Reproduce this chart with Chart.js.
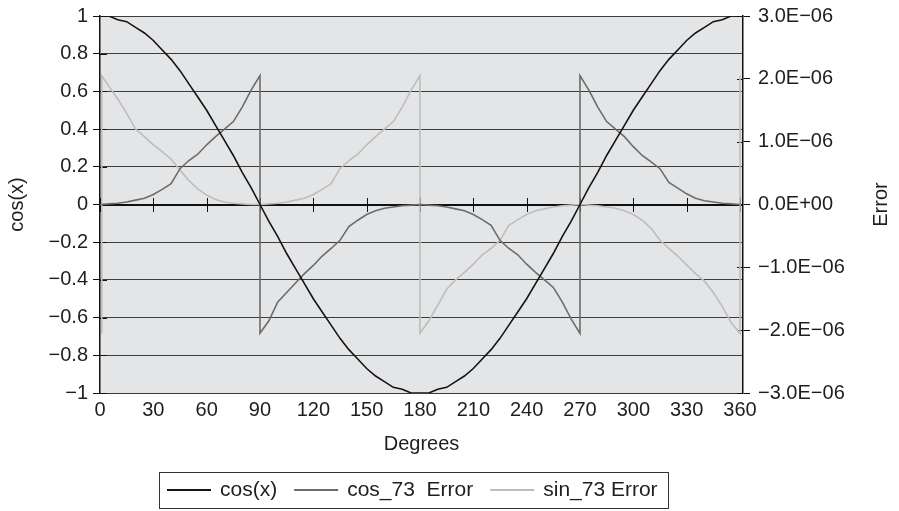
<!DOCTYPE html>
<html>
<head>
<meta charset="utf-8">
<script src="https://cdn.jsdelivr.net/npm/chart.js@4/dist/chart.umd.min.js"></script>
<style>
  html, body { margin: 0; padding: 0; background: #ffffff; }
  #wrap { width: 899px; height: 511px; position: relative; }
</style>
</head>
<body>
<div id="wrap"><canvas id="chart" width="899" height="511"></canvas></div>
<script>
// ---- data -------------------------------------------------------------
// cos(x) sampled every 5 degrees
const cosDeg = [0,5,10,15,20,25,30,35,40,45,50,55,60,65,70,75,80,85,90,
  95,100,105,110,115,120,125,130,135,140,145,150,155,160,165,170,175,180,
  185,190,195,200,205,210,215,220,225,230,235,240,245,250,255,260,265,270,
  275,280,285,290,295,300,305,310,315,320,325,330,335,340,345,350,355,360];
const cosValues = [1.00,1.00,0.98,0.97,0.94,0.91,0.87,0.82,0.77,0.71,0.64,0.57,0.50,0.42,0.34,0.26,0.17,0.09,0.00,
  -0.09,-0.17,-0.26,-0.34,-0.42,-0.50,-0.57,-0.64,-0.71,-0.77,-0.82,-0.87,-0.91,-0.94,-0.97,-0.98,-1.00,-1.00,
  -1.00,-0.98,-0.97,-0.94,-0.91,-0.87,-0.82,-0.77,-0.71,-0.64,-0.57,-0.50,-0.42,-0.34,-0.26,-0.17,-0.09,0.00,
  0.09,0.17,0.26,0.34,0.42,0.50,0.57,0.64,0.71,0.77,0.82,0.87,0.91,0.94,0.97,0.98,1.00,1.00];

// approximation errors, in units of 1E-06 (repeated degree = jump)
const ERR_UNIT = 1e-6;
const cosErrDeg = [0,5,10,15,20,25,30,35,40,45,50,55,60,65,70,75,80,85,90,
  90,95,100,105,110,115,120,125,130,135,140,145,150,155,160,165,170,175,180,
  185,190,195,200,205,210,215,220,225,230,235,240,245,250,255,260,265,270,
  270,275,280,285,290,295,300,305,310,315,320,325,330,335,340,345,350,355,360];
const cosErrMicro = [0,0.01,0.02,0.04,0.07,0.10,0.16,0.24,0.33,0.57,0.70,0.80,0.95,1.08,1.20,1.32,1.55,1.82,2.05,
  -2.05,-1.85,-1.55,-1.40,-1.25,-1.10,-0.97,-0.82,-0.70,-0.57,-0.35,-0.25,-0.16,-0.10,-0.06,-0.04,-0.02,-0.01,0,
  -0.01,-0.02,-0.04,-0.07,-0.10,-0.16,-0.24,-0.33,-0.57,-0.70,-0.80,-0.95,-1.08,-1.20,-1.32,-1.55,-1.82,-2.05,
  2.05,1.82,1.55,1.32,1.20,1.08,0.92,0.78,0.68,0.57,0.35,0.26,0.17,0.10,0.06,0.04,0.02,0.01,0];

const sinErrDeg = [1,1,5,10,15,20,25,30,35,40,45,50,55,60,65,70,75,80,85,90,
  95,100,105,110,115,120,125,130,135,140,145,150,155,160,165,170,175,180,
  180,185,190,195,200,205,210,215,220,225,230,235,240,245,250,255,260,265,270,
  275,280,285,290,295,300,305,310,315,320,325,330,335,340,345,350,355,360,360];
const sinErrMicro = [-2.05,2.05,1.88,1.68,1.45,1.20,1.08,0.95,0.84,0.72,0.55,0.38,0.25,0.15,0.08,0.04,0.02,0.01,0,0,
  0.01,0.02,0.04,0.07,0.10,0.16,0.24,0.33,0.57,0.70,0.80,0.95,1.08,1.20,1.32,1.55,1.82,2.05,
  -2.05,-1.85,-1.60,-1.35,-1.20,-1.08,-0.95,-0.80,-0.70,-0.57,-0.33,-0.24,-0.16,-0.10,-0.07,-0.04,-0.02,-0.01,0,
  -0.01,-0.02,-0.04,-0.06,-0.10,-0.16,-0.25,-0.38,-0.57,-0.70,-0.82,-0.96,-1.10,-1.22,-1.40,-1.62,-1.88,-2.05,2.05];

// tick positions
const degreeTicks = [0,30,60,90,120,150,180,210,240,270,300,330,360];
const cosTicks = [-1,-0.8,-0.6,-0.4,-0.2,0,0.2,0.4,0.6,0.8,1];
const errTicks = [-3e-6,-2e-6,-1e-6,0,1e-6,2e-6,3e-6];

const seriesNames = ['cos(x)', 'cos_73  Error', 'sin_73 Error'];
const seriesColors = ['#141414', '#6c6c6c', '#bdbdbd'];

// ---- helpers ----------------------------------------------------------
const FONT = "'Liberation Sans', Arial, Helvetica, sans-serif";
const MINUS = '\u2212';

function pairs(xs, ys, k) {
  return xs.map((x, i) => ({ x: x, y: ys[i] * (k || 1) }));
}
function fmtCos(v) {
  const r = Math.round(v * 10) / 10;
  if (r === 0) return '0';
  return (r < 0 ? MINUS : '') + String(Math.abs(r));
}
function fmtErr(v) {
  if (Math.abs(v) < 1e-12) return '0.0E+00';
  const a = Math.abs(v);
  const e = Math.floor(Math.log10(a) + 1e-9);
  const m = a / Math.pow(10, e);
  return (v < 0 ? MINUS : '') + m.toFixed(1) + 'E' + (e < 0 ? MINUS : '+') + String(Math.abs(e)).padStart(2, '0');
}
function setTicks(list) {
  return function (scale) { scale.ticks = list.map(v => ({ value: v })); };
}
// fixed axis band size, no extra label overflow padding
function fixWidth(w) {
  return function (s) { s.width = w; s.paddingTop = 0; s.paddingBottom = 0; };
}

// ---- decorations: panel fill, zero axis, inner ticks, titles, legend ---
const decor = {
  id: 'decor',
  beforeDraw(chart) {
    const { ctx, chartArea: a } = chart;
    ctx.save();
    ctx.fillStyle = '#e4e5e7';
    ctx.fillRect(a.left, a.top, a.right - a.left, a.bottom - a.top);
    ctx.restore();
  },
  beforeDatasetsDraw(chart) {
    const { ctx, chartArea: a, scales } = chart;
    const y0 = Math.round(scales.y.getPixelForValue(0));
    ctx.save();
    ctx.strokeStyle = '#111';
    // horizontal axis through zero
    ctx.lineWidth = 2;
    ctx.beginPath();
    ctx.moveTo(a.left, y0);
    ctx.lineTo(a.right, y0);
    ctx.stroke();
    ctx.lineWidth = 1;
    ctx.beginPath();
    degreeTicks.forEach(d => {
      const x = Math.round(scales.x.getPixelForValue(d)) + 0.5;
      ctx.moveTo(x, y0 - 7);
      ctx.lineTo(x, y0 + 7);
    });
    // inner halves of the value-axis tick marks
    cosTicks.forEach(v => {
      const y = Math.round(scales.y.getPixelForValue(v)) + 0.5;
      ctx.moveTo(a.left, y);
      ctx.lineTo(a.left + 7, y);
    });
    errTicks.forEach(v => {
      const y = Math.round(scales.y2.getPixelForValue(v)) + 0.5;
      ctx.moveTo(a.right - 6, y);
      ctx.lineTo(a.right, y);
    });
    ctx.stroke();
    ctx.restore();
  },
  afterDraw(chart) {
    const { ctx, chartArea: a } = chart;
    const midY = (a.top + a.bottom) / 2;
    ctx.save();
    ctx.fillStyle = '#1e1e1e';
    ctx.font = '20px ' + FONT;
    ctx.textAlign = 'center';
    ctx.textBaseline = 'middle';
    // axis titles
    ctx.fillText('Degrees', (a.left + a.right) / 2, 444);
    ctx.save();
    ctx.translate(17, midY);
    ctx.rotate(-Math.PI / 2);
    ctx.fillText('cos(x)', 0, 0);
    ctx.restore();
    ctx.save();
    ctx.translate(881, midY);
    ctx.rotate(-Math.PI / 2);
    ctx.fillText('Error', 0, 0);
    ctx.restore();

    // legend
    ctx.font = '21px ' + FONT;
    const lineLen = 44, gapText = 9, gapItem = 17, padL = 8, padR = 10;
    const widths = seriesNames.map(n => ctx.measureText(n).width);
    let total = padL + padR;
    widths.forEach((w, i) => { total += lineLen + gapText + w + (i < widths.length - 1 ? gapItem : 0); });
    const boxL = 159;
    const boxT = 472, boxB = 508, cy = 490;
    ctx.strokeStyle = '#333';
    ctx.lineWidth = 1;
    ctx.strokeRect(boxL + 0.5, boxT + 0.5, Math.round(total), boxB - boxT);
    let x = boxL + padL;
    ctx.textAlign = 'left';
    seriesNames.forEach((n, i) => {
      ctx.strokeStyle = seriesColors[i];
      ctx.lineWidth = 2;
      ctx.beginPath();
      ctx.moveTo(x, cy);
      ctx.lineTo(x + lineLen, cy);
      ctx.stroke();
      ctx.fillStyle = '#1e1e1e';
      ctx.fillText(n, x + lineLen + gapText, cy);
      x += lineLen + gapText + widths[i] + gapItem;
    });
    ctx.restore();
  }
};

// ---- chart ------------------------------------------------------------
new Chart(document.getElementById('chart'), {
  type: 'line',
  data: {
    datasets: [
      { label: seriesNames[0], data: pairs(cosDeg, cosValues), yAxisID: 'y',
        borderColor: seriesColors[0], borderWidth: 1.6 },
      { label: seriesNames[1], data: pairs(cosErrDeg, cosErrMicro, ERR_UNIT), yAxisID: 'y2',
        borderColor: seriesColors[1], borderWidth: 1.6 },
      { label: seriesNames[2], data: pairs(sinErrDeg, sinErrMicro, ERR_UNIT), yAxisID: 'y2',
        borderColor: seriesColors[2], borderWidth: 1.6 }
    ]
  },
  options: {
    responsive: false,
    animation: false,
    devicePixelRatio: 1,
    parsing: false,
    elements: { point: { radius: 0 }, line: { tension: 0, fill: false } },
    layout: { padding: { top: 16, left: 0, right: 0, bottom: 0 } },
    plugins: { legend: { display: false }, tooltip: { enabled: false }, title: { display: false } },
    scales: {
      x: {
        type: 'linear', min: 0, max: 361.7, position: 'bottom',
        afterBuildTicks: setTicks(degreeTicks),
        afterFit(s) { s.height = 118; s.paddingLeft = 0; s.paddingRight = 0; },
        grid: { display: false, drawTicks: false },
        border: { display: false },
        ticks: { autoSkip: false, maxRotation: 0, padding: 5, color: '#1e1e1e',
                 font: { family: FONT, size: 20 } }
      },
      y: {
        type: 'linear', min: -1, max: 1, position: 'left',
        afterBuildTicks: setTicks(cosTicks),
        afterFit: fixWidth(100),
        grid: { color: '#3c3c3c', lineWidth: 1, tickColor: '#111', tickLength: 7 },
        border: { display: true, color: '#111', width: 1.5 },
        ticks: { padding: 5, color: '#1e1e1e', font: { family: FONT, size: 20 }, callback: fmtCos }
      },
      y2: {
        type: 'linear', min: -3e-6, max: 3e-6, position: 'right',
        afterBuildTicks: setTicks(errTicks),
        afterFit: fixWidth(156),
        grid: { drawOnChartArea: false, tickColor: '#111', tickLength: 7 },
        border: { display: true, color: '#111', width: 1.5 },
        ticks: { padding: 8, color: '#1e1e1e', font: { family: FONT, size: 20 }, callback: fmtErr }
      }
    }
  },
  plugins: [decor]
});
</script>
</body>
</html>
